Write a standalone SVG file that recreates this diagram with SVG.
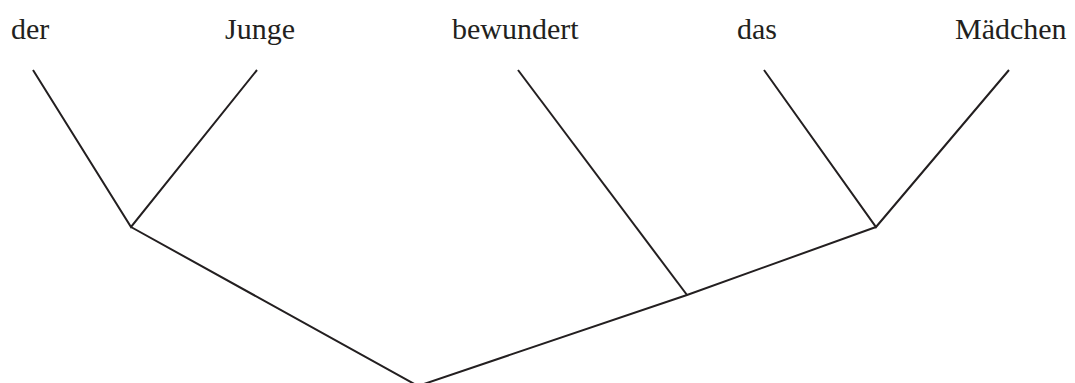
<svg xmlns="http://www.w3.org/2000/svg" width="1075" height="383" viewBox="0 0 1075 383">
<style>
.w{font-family:"Liberation Serif","Times New Roman",serif;font-size:30px;fill:#231f20}
.e{stroke:#231f20;stroke-width:2;fill:none;stroke-linecap:butt;stroke-linejoin:miter}
</style>
<rect width="1075" height="383" fill="#ffffff"/>
<g id="n-der"><text class="w" x="11" y="39">der</text></g>
<g id="n-junge"><text class="w" x="225" y="39">Junge</text></g>
<g id="n-bewundert"><text class="w" x="452" y="39">bewundert</text></g>
<g id="n-das"><text class="w" x="737" y="39">das</text></g>
<g id="n-maedchen"><text class="w" x="955" y="39">Mädchen</text></g>
<g id="connectors">
<path class="e" d="M33,70 L131,227 L257,70"/>
<path class="e" d="M764,70 L876,227 L1009,70"/>
<path class="e" d="M518,70 L687,295"/>
<path class="e" d="M131,227 L418,386 L687,295 L876,227"/>
</g>
</svg>
